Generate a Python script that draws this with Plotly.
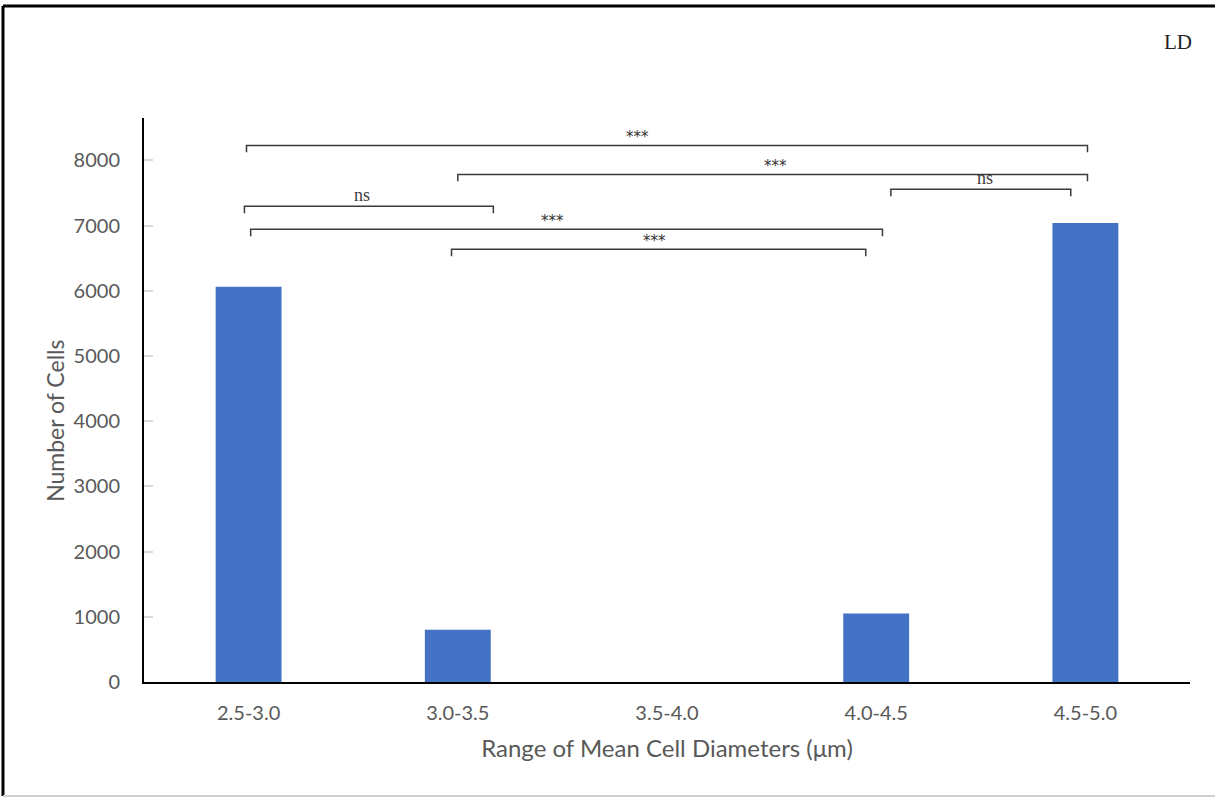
import plotly.graph_objects as go

categories = ["2.5-3.0", "3.0-3.5", "3.5-4.0", "4.0-4.5", "4.5-5.0"]
cell_counts = [6060, 800, 0, 1050, 7040]

# significance brackets: (start index, end index, height, label)
br_start = [-0.01, 1.0, 3.07, -0.02, 0.01, 0.97]
br_end = [4.01, 4.01, 3.93, 1.17, 3.03, 2.95]
br_height = [8230, 7785, 7556, 7295, 6943, 6636]
br_label = ["***", "***", "ns", "ns", "***", "***"]
br_label_x = [1.86, 2.52, 3.52, 0.54, 1.455, 1.94]

fig = go.Figure()
fig.add_trace(go.Bar(x=list(range(len(categories))), y=cell_counts,
                     marker=dict(color="#4472C4", line=dict(width=0)),
                     width=0.315))

tick_drop = 105
shapes = []
annotations = []
for s, e, h, lab, lx in zip(br_start, br_end, br_height, br_label, br_label_x):
    shapes.append(dict(type="path", xref="x", yref="y",
                       path=f"M {s},{h - tick_drop} L {s},{h} L {e},{h} L {e},{h - tick_drop}",
                       line=dict(color="#3a3a3a", width=1.5)))
    if lab == "ns":
        annotations.append(dict(x=lx, y=h, xref="x", yref="y", text=lab, showarrow=False,
                                yanchor="bottom", yshift=-1,
                                font=dict(family="Liberation Serif", size=18, color="#404040")))
    else:
        annotations.append(dict(x=lx, y=h, xref="x", yref="y", text=lab, showarrow=False,
                                yanchor="bottom", yshift=-3,
                                font=dict(family="DejaVu Sans", size=15, color="#333333")))

# outer frame
shapes += [
    dict(type="line", xref="paper", yref="paper", x0=-0.1348, x1=-0.1348, y0=-0.2021, y1=1.1986,
         line=dict(color="black", width=3)),
    dict(type="line", xref="paper", yref="paper", x0=-0.1348, x1=1.03, y0=1.1986, y1=1.1986,
         line=dict(color="black", width=3)),
    dict(type="line", xref="paper", yref="paper", x0=-0.1348, x1=1.03, y0=-0.2021, y1=-0.2021,
         line=dict(color="#d0d0d0", width=2)),
]

annotations.append(dict(x=1.004, y=1.135, xref="paper", yref="paper", text="LD", showarrow=False,
                        xanchor="right", yanchor="middle",
                        font=dict(family="Liberation Serif", size=21, color="#222")))
annotations.append(dict(x=-0.0851, y=0.463, xref="paper", yref="paper", text="Number of Cells",
                        showarrow=False, textangle=-90, xanchor="center", yanchor="middle",
                        font=dict(family="Lato", size=23, color="#595959")))

fig.update_layout(
    width=1215, height=798,
    margin=dict(l=144, r=25, t=118, b=116),
    paper_bgcolor="white", plot_bgcolor="white",
    showlegend=False,
    shapes=shapes, annotations=annotations,
    font=dict(family="Lato", color="#595959"),
    xaxis=dict(tickmode="array", tickvals=list(range(len(categories))), ticktext=categories,
               range=[-0.5, 4.5], showgrid=False, showline=True, linecolor="black", linewidth=2,
               ticks="", tickfont=dict(size=20, color="#595959"), ticklabelstandoff=12,
               title=dict(text="Range of Mean Cell Diameters (μm)", font=dict(size=24, color="#595959"),
                          standoff=17)),
    yaxis=dict(range=[0, 8650], tickvals=[0, 1000, 2000, 3000, 4000, 5000, 6000, 7000, 8000],
               showgrid=False, showline=True, linecolor="black", linewidth=2,
               ticks="inside", ticklen=9, tickcolor="#d9d9d9", tickwidth=1.5,
               ticklabelstandoff=18,
               tickfont=dict(size=20, color="#595959"), zeroline=False),
)

fig.write_html("out.html")
